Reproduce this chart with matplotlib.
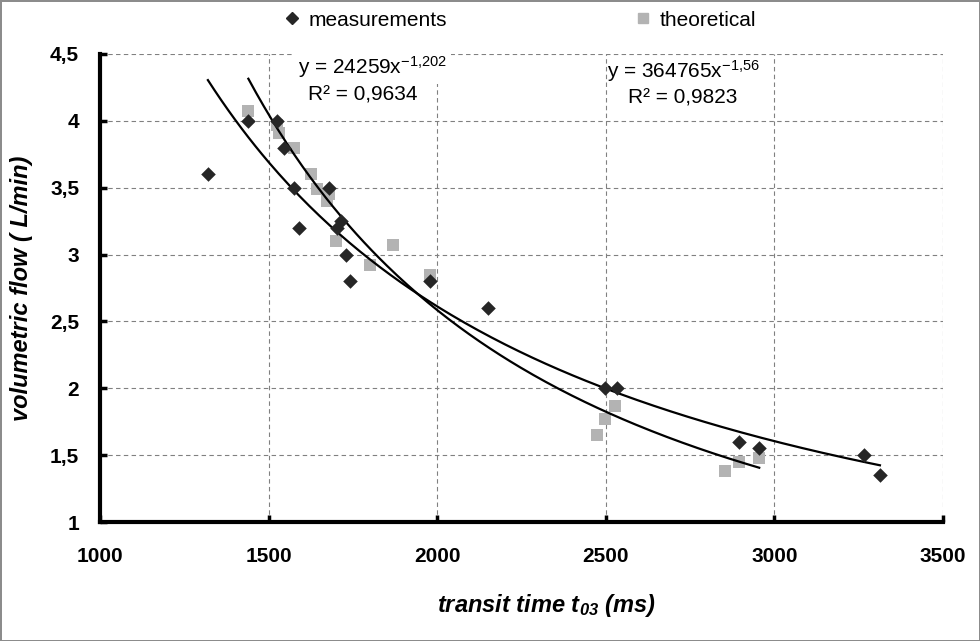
import numpy as np
import matplotlib
matplotlib.use("Agg")
import matplotlib.pyplot as plt
from matplotlib.lines import Line2D

plt.rcParams['font.family'] = ['Liberation Sans', 'DejaVu Sans']
plt.rcParams['mathtext.fontset'] = 'custom'
plt.rcParams['mathtext.rm'] = 'Liberation Sans'
plt.rcParams['mathtext.it'] = 'Liberation Sans:italic'
plt.rcParams['mathtext.bf'] = 'Liberation Sans:bold'
plt.rcParams['mathtext.bfit'] = 'Liberation Sans:italic:bold'

# measurements (diamonds)
meas_x = [1320, 1440, 1525, 1545, 1575, 1680, 1590, 1703, 1715, 1731, 1741, 1980, 2152, 2497, 2532, 2896, 2954, 3266, 3313]
meas_y = [3.6, 4.0, 4.0, 3.8, 3.5, 3.5, 3.2, 3.2, 3.25, 3.0, 2.8, 2.8, 2.6, 2.0, 2.0, 1.6, 1.55, 1.5, 1.35]
# theoretical (squares)
theo_x = [1440, 1524, 1530, 1575, 1627, 1644, 1680, 1674, 1700, 1801, 1870, 1980, 2475, 2498, 2528, 2854, 2896, 2955]
theo_y = [4.07, 3.97, 3.91, 3.8, 3.6, 3.49, 3.45, 3.4, 3.1, 2.92, 3.07, 2.85, 1.65, 1.77, 1.87, 1.38, 1.45, 1.48]

# power trendlines y = a * x^b
meas_a, meas_b = 24259, -1.202
theo_a, theo_b = 364765, -1.56

x_ticks = [1000, 1500, 2000, 2500, 3000, 3500]
y_ticks = [1, 1.5, 2, 2.5, 3, 3.5, 4, 4.5]
y_tick_labels = ['1', '1,5', '2', '2,5', '3', '3,5', '4', '4,5']

fig = plt.figure(figsize=(9.8, 6.41), dpi=100)
fig.patch.set_edgecolor('#8c8c8c')
fig.patch.set_linewidth(2)
ax = fig.add_axes([100/980, 1-522/641, (943-100)/980, (522-54)/641])

xm = np.linspace(min(meas_x), max(meas_x), 200)
ax.plot(xm, meas_a * xm ** meas_b, color='black', lw=1.6, zorder=3)
xt = np.linspace(min(theo_x), max(theo_x), 200)
ax.plot(xt, theo_a * xt ** theo_b, color='black', lw=1.6, zorder=3)

ax.scatter(theo_x, theo_y, marker='s', s=70, color='#b3b3b3', zorder=2, linewidths=0)
ax.scatter(meas_x, meas_y, marker='D', s=55, color='#262626', zorder=4, linewidths=0)

ax.set_xlim(1000, 3500)
ax.set_ylim(1, 4.5)
ax.set_xticks(x_ticks)
ax.set_yticks(y_ticks)
ax.set_yticklabels(y_tick_labels)
ax.grid(True, linestyle=(0, (4, 3)), color='#808080', lw=0.8)
ax.set_axisbelow(True)
for s in ['top', 'right']:
    ax.spines[s].set_visible(False)
for s in ['left', 'bottom']:
    ax.spines[s].set_linewidth(3)
ax.tick_params(direction='in', length=5, width=2.5, labelsize=15)
ax.tick_params(axis='y', pad=15)
ax.tick_params(axis='x', pad=18)
for lab in ax.get_xticklabels() + ax.get_yticklabels():
    lab.set_fontweight('bold')

ax.set_xlabel(r'transit time t$_{\mathbfit{03}}$ (ms)', fontsize=17, fontweight='bold', fontstyle='italic', labelpad=19)
ax.set_ylabel('volumetric flow ( L/min)', fontsize=17, fontweight='bold', fontstyle='italic', labelpad=12)
ax.xaxis.label.set_position((0.53, 0))

box = dict(facecolor='white', edgecolor='none', pad=3)
ax.text(1808, 4.40, r'y = 24259x$^{\mathregular{-1{,}202}}$', fontsize=15, ha='center', va='center', bbox=box, zorder=5)
ax.text(1780, 4.19, 'R² = 0,9634', fontsize=15, ha='center', va='center', bbox=box, zorder=5)
ax.text(2730, 4.37, r'y = 364765x$^{\mathregular{-1{,}56}}$', fontsize=15, ha='center', va='center', zorder=5)
ax.text(2728, 4.17, 'R² = 0,9823', fontsize=15, ha='center', va='center', zorder=5)

handles = [Line2D([], [], marker='D', color='#262626', ls='none', markersize=6),
           Line2D([], [], marker='s', color='#b3b3b3', ls='none', markersize=7)]
fig.legend(handles, ['measurements', 'theoretical'], loc='center', bbox_to_anchor=(520/980, 1-20/641),
           ncol=2, frameon=False, fontsize=15, columnspacing=9, handlelength=0.8, handletextpad=0.4)

fig.savefig('out.png', dpi=100, edgecolor=fig.get_edgecolor())
